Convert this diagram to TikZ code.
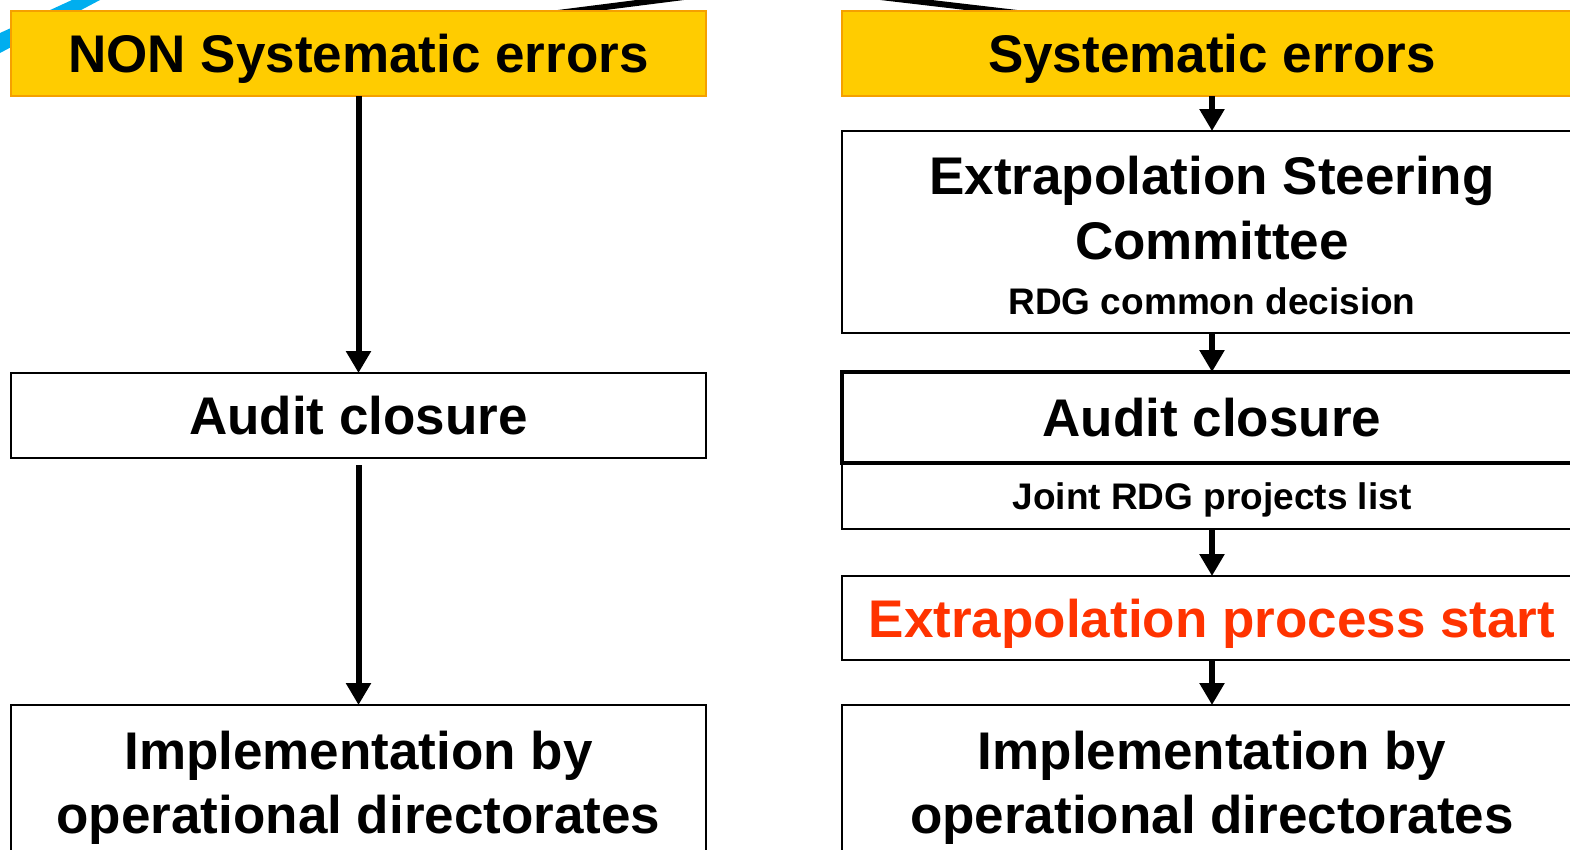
\documentclass[tikz,border=0pt]{standalone}
\usepackage{fontspec}
\setmainfont{Liberation Sans}
\usetikzlibrary{arrows.meta,calc,positioning,backgrounds}

\definecolor{headyellow}{HTML}{FFCC00}
\definecolor{headorange}{HTML}{F5A000}
\definecolor{startred}{HTML}{FF3300}
\definecolor{stripeblue}{HTML}{00AEEF}

\begin{document}
\begin{tikzpicture}[
    x=1pt, y=-1pt,
    every node/.style={font=\bfseries\fontsize{53}{65}\selectfont},
    box/.style={
      draw,
      line width=1.2pt,
      inner sep=0pt,
      outer sep=0pt,
      align=center
    },
    leftbox/.style={box, minimum width=695pt},
    rightbox/.style={box, minimum width=740pt},
    oneline/.style={minimum height=85pt, text height=38pt, text depth=0pt},
    header/.style={oneline, fill=headyellow, draw=headorange},
    impl/.style={inner ysep=26pt, font=\bfseries\fontsize{53}{64}\selectfont},
    small/.style={font=\bfseries\fontsize{37}{44}\selectfont},
    flow/.style={line width=6pt, -{Triangle[width=24pt,length=22pt]}},
    feed/.style={line width=6pt}
  ]

  \useasboundingbox (0,0) rectangle (1570,849);
  \clip (0,0) rectangle (1570,849);

  % Boxes
  \node [leftbox, header] (nonsys) at (358.5,53.5) {NON Systematic errors};
  \node [leftbox, oneline, below=277pt of nonsys] (auditl) {Audit closure};
  \node [leftbox, impl, below=247pt of auditl] (impll) {Implementation by\\operational directorates};

  \node [rightbox, header] (sys) at (1212,53.5) {Systematic errors};
  \node [
    rightbox,
    minimum height=202pt,
    below=35pt of sys
  ] (steer) {\rule{0pt}{45pt}Extrapolation Steering\\Committee\\[-10pt]{\fontsize{37}{44}\selectfont RDG common decision}};
  \node [
    rightbox,
    oneline,
    line width=4.5pt,
    minimum height=91pt,
    below=39pt of steer
  ] (auditr) {Audit closure};
  \node [
    rightbox,
    small,
    minimum height=66pt,
    text height=27pt,
    text depth=0pt,
    below=0pt of auditr
  ] (joint) {Joint RDG projects list};
  \node [rightbox, oneline, text=startred, minimum height=84pt, below=47pt of joint] (start) {Extrapolation process start};
  \node [rightbox, impl, below=45pt of start] (implr) {Implementation by\\operational directorates};

  % Lines from above, under the headers
  \coordinate (root) at (778,-15);
  \begin{scope}[on background layer]
    \fill[stripeblue] (0,33) -- (72,0) -- (100,0) -- (0,53) -- cycle;
    \draw[feed] (root) -- ($(nonsys.north)+(199.5,2)$);
    \draw[feed] (root) -- ($(sys.north)+(-195,2)$);
  \end{scope}

  % Connecting Arrows
  \draw[flow] (nonsys) -- (auditl);
  \draw[flow, shorten <=7pt] (auditl) -- (impll);
  \draw[flow] (sys) -- (steer);
  \draw[flow] (steer) -- (auditr);
  \draw[flow] (joint) -- (start);
  \draw[flow] (start) -- (implr);

\end{tikzpicture}
\end{document}
